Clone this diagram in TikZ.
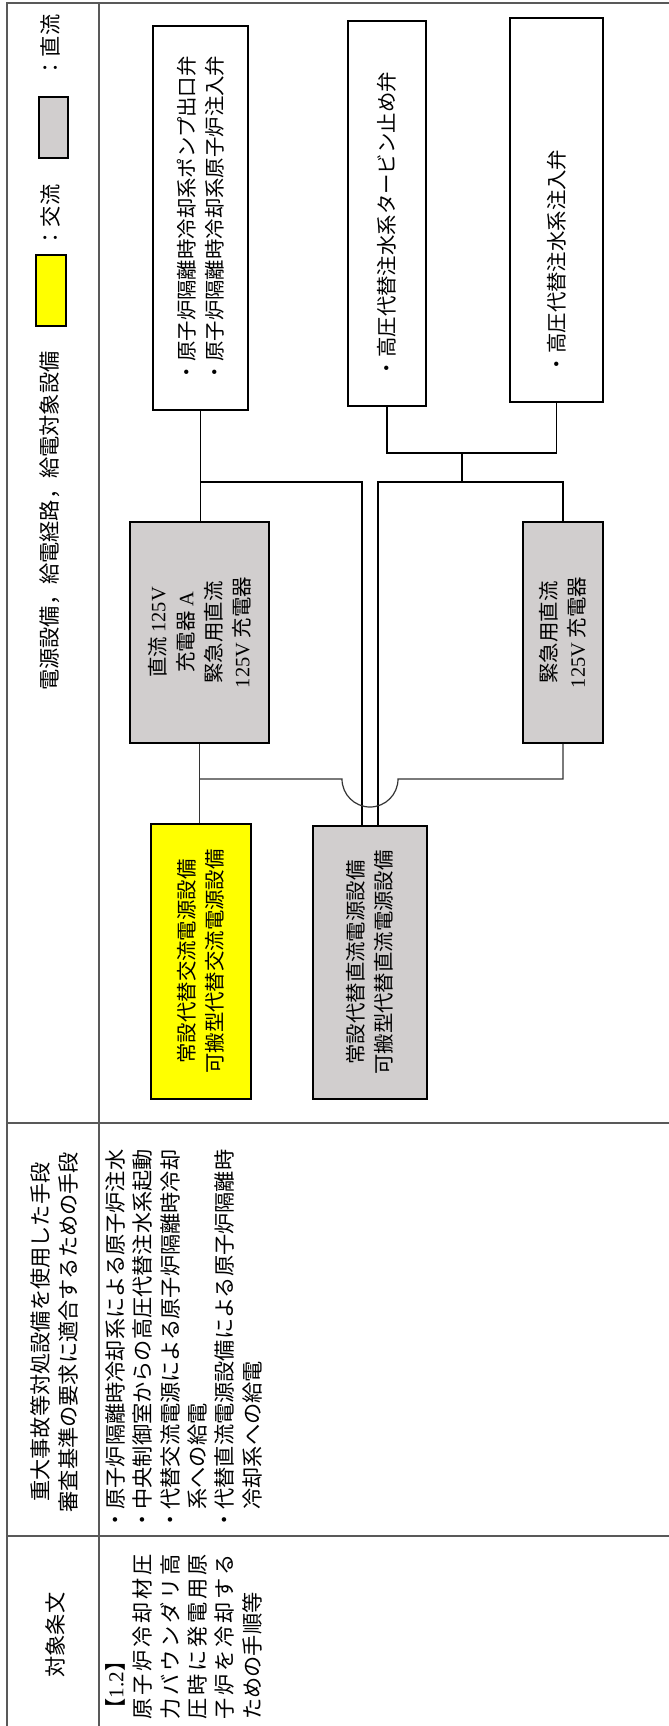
\documentclass[tikz,border=0pt]{standalone}
\usepackage{fontspec}
\setmainfont{Liberation Serif}
\newfontfamily\jp{Noto Sans CJK JP}
\newfontfamily\jpwide[LetterSpace=13]{Noto Sans CJK JP}
\usetikzlibrary{calc}
\definecolor{dcgray}{RGB}{209,206,206}
\definecolor{acyellow}{RGB}{255,255,0}
\newcommand{\latn}[1]{{\rmfamily #1}}

\begin{document}
\begin{tikzpicture}[
    x=0.5pt, y=-0.5pt,
    every node/.style={font=\jp\fontsize{10.6pt}{14pt}\selectfont},
    tbl/.style={draw=black!65, line width=0.8pt},
    hdr/.style={rotate=90, align=center, inner sep=0pt},
    body/.style={rotate=90, align=left, inner sep=0pt, anchor=north west,
                 font=\jp\fontsize{10.6pt}{13.7pt}\selectfont},
    valvebox/.style={draw, line width=0.9pt, fill=white, rotate=90, align=left,
                     inner xsep=14pt, inner ysep=0pt, font=\jp\fontsize{10.2pt}{14pt}\selectfont},
    srcbox/.style={draw, line width=0.9pt, rotate=90, align=center, inner sep=0pt,
                   font=\jp\fontsize{10.2pt}{14pt}\selectfont},
    legbox/.style={draw, line width=0.9pt, inner sep=0pt},
    wire/.style={line width=0.8pt},
    acwire/.style={line width=0.6pt, black!80}
]
\path[use as bounding box, fill=white] (0,0) rectangle (669,1726);

% table frame
\draw[tbl] (7,1726) -- (7,3) -- (669,3);
\draw[tbl] (99,3) -- (99,1726);
\draw[tbl] (7,1123) -- (669,1123);
\draw[tbl] (7,1536) -- (669,1536);

% header column
\node[hdr] (title) at (50,521) {電源設備，給電経路，給電対象設備};
\node[legbox, fill=acyellow, minimum width=15pt, minimum height=35.5pt] (legac) at (51,290.5) {};
\node[hdr] (legactxt) at (50,216.5) {：交流};
\node[legbox, fill=dcgray, minimum width=14.5pt, minimum height=30.5pt] (legdc) at (53.5,127.5) {};
\node[hdr] (legdctxt) at (50,46.5) {：直流};
\node[hdr] (hdrmeans) at (54,1332) {重大事故等対処設備を使用した手段\\審査基準の要求に適合するための手段};
\node[hdr] (hdrart) at (55,1635) {対象条文};

% loads
\node[valvebox, text width=164pt, minimum height=47.5pt] (out1) at (200.5,218)
    {・原子炉隔離時冷却系ポンプ出口弁\\・原子炉隔離時冷却系原子炉注入弁};
\node[valvebox, text width=164.5pt, minimum height=39pt] (out2) at (387,213.5)
    {・高圧代替注水系タービン止め弁};
\node[valvebox, text width=164pt, minimum height=46.5pt] (out3) at (556.5,210)
    {・高圧代替注水系注入弁};

% chargers and sources
\node[srcbox, fill=dcgray, minimum width=110.5pt, minimum height=69.5pt] (chgA) at (199.5,632.5)
    {直流 \latn{125V}\\充電器 \latn{A}\\緊急用直流\\\latn{125V} 充電器};
\node[srcbox, fill=dcgray, minimum width=110.5pt, minimum height=40pt] (chgE) at (563,632.5)
    {緊急用直流\\\latn{125V} 充電器};
\node[srcbox, fill=acyellow, minimum width=137.5pt, minimum height=50pt] (acsrc) at (201,961.5)
    {常設代替交流電源設備\\可搬型代替交流電源設備};
\node[srcbox, fill=dcgray, minimum width=136.5pt, minimum height=57pt] (dcsrc) at (370,962.5)
    {常設代替直流電源設備\\可搬型代替直流電源設備};

% DC feeders
\coordinate (j2) at (462,453);
\coordinate (j3) at (462,482);
\coordinate (j1) at (out1.west |- j3);
\draw[wire] (out1.west) -- (out1.west |- chgA.east);
\draw[wire] (j1) -| ($(dcsrc.east)+(-8,0)$);
\draw[wire] (out2.west) |- (j2) -| (out3.west);
\draw[wire] (j2) -- (j3);
\draw[wire] ($(dcsrc.east)+(8,0)$) |- (j3) -| (chgE.east);

% AC feeder to both chargers, jumping over the DC lines
\coordinate (acbus) at (0,779);
\coordinate (j4) at (chgA.west |- acbus);
\draw[acwire] (chgA.west) -- (chgA.west |- acsrc.east);
\draw[acwire] (j4) -- ($(dcsrc.east |- acbus)+(-28,0)$)
    arc[start angle=180, end angle=360, radius=14pt] -| (chgE.west);

% body texts
\node[body] (means) at (105,1531)
    {・原子炉隔離時冷却系による原子炉注水\\・中央制御室からの高圧代替注水系起動\\・代替交流電源による原子炉隔離時冷却\\　系への給電\\・代替直流電源設備による原子炉隔離時\\　冷却系への給電};
\node[body] (article) at (105,1720)
    {【\latn{1.2}】\\{\jpwide 原子炉冷却材圧}\\{\jpwide 力バウンダリ高}\\{\jpwide 圧時に発電用原}\\{\jpwide 子炉を冷却する}\\ための手順等};

\end{tikzpicture}
\end{document}
